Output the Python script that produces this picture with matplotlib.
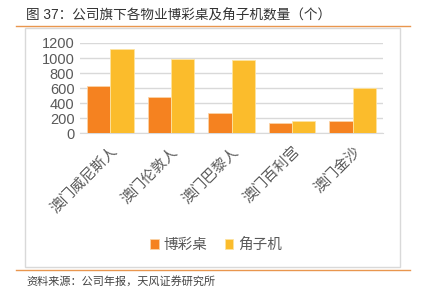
import numpy as np
import matplotlib
matplotlib.use("Agg")
import matplotlib.pyplot as plt
from matplotlib.patches import Rectangle
from matplotlib.lines import Line2D

plt.rcParams['font.family'] = ['Liberation Sans', 'Noto Sans CJK SC', 'DejaVu Sans']

# data
properties = ["澳门威尼斯人", "澳门伦敦人", "澳门巴黎人", "澳门百利宫", "澳门金沙"]
tables = [630, 478, 272, 138, 156]
slots = [1118, 982, 970, 160, 600]
series_names = ["博彩桌", "角子机"]
yticks = [0, 200, 400, 600, 800, 1000, 1200]

W, H = 422, 298
fig = plt.figure(figsize=(W / 100, H / 100), dpi=100)

def fx(px):
    return px / W

def fy(py):
    return 1 - py / H

# title, rules and frame
fig.text(fx(26), fy(15), "图 37：公司旗下各物业博彩桌及角子机数量（个）",
         fontsize=9.8, color="#333333", va="center", ha="left")
fig.add_artist(Line2D([fx(16), fx(410)], [fy(25.5), fy(25.5)], color="#E9964E", lw=1))
fig.add_artist(Line2D([fx(16), fx(410)], [fy(269.5), fy(269.5)], color="#E9964E", lw=1))
fig.add_artist(Rectangle((fx(25), fy(267)), fx(375), (267 - 28) / H,
                         fill=False, ec="#D9D9D9", lw=1))
fig.text(fx(26), fy(281), "资料来源：公司年报，天风证券研究所",
         fontsize=8, color="#444444", va="center", ha="left")

# plot area
ax = fig.add_axes([fx(80), fy(133), fx(303), (133 - 43) / H])
x = np.arange(len(properties))
bw = 0.385
ax.bar(x - bw / 2, tables, bw, color="#F58220", ec="#FBD4A8", lw=0.6, label=series_names[0], zorder=3)
ax.bar(x + bw / 2, slots, bw, color="#FBBC2C", ec="#FDE3A0", lw=0.6, label=series_names[1], zorder=3)

ax.set_xlim(-0.5, len(properties) - 0.5)
ax.set_ylim(0, 1200)
ax.set_yticks(yticks)
ax.set_yticklabels([str(v) for v in yticks], fontsize=10.5, color="#595959")
ax.yaxis.grid(True, color="#D9D9D9", lw=1, zorder=0)
ax.set_xticks(x)
ax.set_xticklabels(properties, rotation=45, ha="right", rotation_mode="anchor",
                   fontsize=10.5, color="#595959")
ax.tick_params(axis="both", length=0, pad=4)
ax.tick_params(axis="x", pad=8)
for s in ["top", "right", "left"]:
    ax.spines[s].set_visible(False)
ax.spines["bottom"].set_color("#D9D9D9")

leg = fig.legend(loc="center", bbox_to_anchor=(fx(216), fy(245)), ncol=2, frameon=False,
                 fontsize=10.5, handlelength=0.6, handleheight=0.6, handletextpad=0.3,
                 columnspacing=1.2, labelcolor="#595959")

fig.savefig("out.png", dpi=100)
